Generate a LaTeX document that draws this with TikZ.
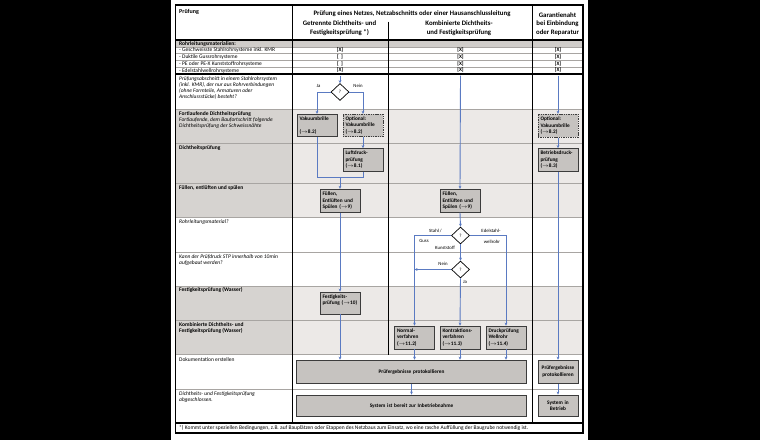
\documentclass[tikz,border=0pt]{standalone}
\usepackage{fontspec}
\setmainfont{Carlito}
\usetikzlibrary{arrows.meta,shapes.geometric}
\definecolor{labgray}{HTML}{D6D3D0}
\definecolor{congray}{HTML}{ECE9E7}
\definecolor{matgray}{HTML}{D0CDCA}
\definecolor{boxfill}{HTML}{C6C3C0}
\definecolor{boxdraw}{HTML}{3C3C3C}
\definecolor{sepgray}{HTML}{A8A5A2}
\definecolor{flowblue}{HTML}{5A7AC2}
\newcommand\lbfont{\fontsize{5.5}{6.2}\selectfont}
\newcommand\hdfont{\fontsize{6.8}{8.5}\selectfont\bfseries}
\newcommand\bxfont{\fontsize{5.3}{6.5}\selectfont\bfseries\hyphenpenalty=10000\exhyphenpenalty=10000}
\newcommand\smfont{\fontsize{4.8}{5.6}\selectfont}
\newcommand\rarr{$\rightarrow$}
\begin{document}
\begin{tikzpicture}[x=1pt,y=-1pt,
  flow/.style={draw=flowblue,line width=0.9pt,-{Stealth[length=3pt,width=2.8pt]}},
  flowline/.style={draw=flowblue,line width=0.9pt},
  box/.style={draw=boxdraw,fill=boxfill,line width=0.8pt,inner sep=2.5pt,text width=35pt,align=left,minimum height=23pt,font=\bxfont},
  cbox/.style={box,align=center},
  optbox/.style={box,dash pattern=on 1.4pt off 0.9pt},
  dec/.style={diamond,draw=black,fill=white,line width=0.7pt,inner sep=0pt,minimum width=18pt,minimum height=17pt,font=\smfont},
  lbl/.style={anchor=base west,inner sep=0pt,align=left,font=\lbfont},
  hdr/.style={anchor=base,inner sep=0pt,align=center,font=\hdfont},
  xmark/.style={anchor=base,inner sep=0pt,font=\bxfont},
  brlbl/.style={anchor=base,inner sep=0pt,font=\smfont},
  rule/.style={draw=black,line width=1.2pt},
  rowsep/.style={draw=sepgray,line width=0.5pt}
]
\useasboundingbox (0,0) rectangle (760,440);
\fill[black] (0,0) rectangle (760,440);
\fill[white] (171,0) rectangle (588,440);
% row fills
\fill[matgray] (175.5,40) rectangle (583,47);
\fill[labgray] (175.5,109.3) rectangle (292.3,217.5);
\fill[labgray] (175.5,286) rectangle (292.3,354.5);
\fill[congray] (292.3,109.3) rectangle (583,217.5);
\fill[congray] (292.3,286) rectangle (583,354.5);
% separators
\foreach \yy in {47,53.7,60.5,67.5,109.3,143.5,183.3,217.5,252.5,286,320.5,354.5,389}
  \draw[rowsep] (175.5,\yy) -- (583,\yy);
% rules
\draw[rule] (175.5,40) -- (583,40);
\draw[rule] (175.5,74) -- (583,74);
\draw[rule] (175.5,423) -- (583,423);
\draw[rule] (292.3,5) -- (292.3,423);
\draw[rule] (532.3,5) -- (532.3,423);
\draw[rule] (388.5,21.5) -- (388.5,354.5);
\draw[rule] (175.5,5) rectangle (583,433);

% header
\node[lbl,font=\fontsize{6}{7}\selectfont\bfseries] (hp) at (179,13.5) {Prüfung};
\node[hdr] (hnet) at (412,15.2) {Prüfung eines Netzes, Netzabschnitts oder einer Hausanschlussleitung};
\node[hdr] (hget) at (339.5,34) {Getrennte Dichtheits- und\\Festigkeitsprüfung *)};
\node[hdr] (hkom) at (459,34) {Kombinierte Dichtheits-\\und Festigkeitsprüfung};
\node[hdr] (hgar) at (557.5,34) {Garantienaht\\bei Einbindung\\oder Reparatur};

% row labels
\node[lbl,font=\lbfont\bfseries] (lmat) at (179,45) {Rohrleitungsmaterialien:};
\node[lbl] (lm1) at (179,51.6) {- Geschweisste Stahlrohrsysteme inkl. KMR};
\node[lbl] (lm2) at (179,58.3) {- Duktile Gussrohrsysteme};
\node[lbl] (lm3) at (179,65.1) {- PE oder PE-X Kunststoffrohrsysteme};
\node[lbl] (lm4) at (179,72) {- Edelstahlwellrohrsysteme};
\node[lbl,font=\lbfont\itshape] (lq1) at (179,98.6) {Prüfungsabschnitt in einem Stahlrohrsystem\\(inkl. KMR), der nur aus Rohrverbindungen\\(ohne Formteile, Armaturen oder\\Anschlussstücke) besteht?};
\node[lbl] (lfort) at (179,127.5) {\textbf{Fortlaufende Dichtheitsprüfung}\\\textit{Fortlaufende, dem Baufortschritt folgende}\\\textit{Dichtheitsprüfung der Schweissnähte}};
\node[lbl,font=\lbfont\bfseries] (ldicht) at (179,149.6) {Dichtheitsprüfung};
\node[lbl,font=\lbfont\bfseries] (lfuell) at (179,189.3) {Füllen, entlüften und spülen};
\node[lbl,font=\lbfont\itshape] (lrohr) at (179,223.5) {Rohrleitungsmaterial?};
\node[lbl,font=\lbfont\itshape] (lkann) at (179,264.4) {Kann der Prüfdruck STP innerhalb von 10min\\aufgebaut werden?};
\node[lbl,font=\lbfont\bfseries] (lfest) at (179,291.5) {Festigkeitsprüfung (Wasser)};
\node[lbl,font=\lbfont\bfseries] (lkomb) at (179,332.8) {Kombinierte Dichtheits- und\\Festigkeitsprüfung (Wasser)};
\node[lbl] (ldoku) at (179,361.3) {Dokumentation erstellen};
\node[lbl,font=\lbfont\itshape] (labg) at (179,401.8) {Dichtheits- und Festigkeitsprüfung\\abgeschlossen.};
\node[lbl] (lfn) at (179,429.7) {*) Kommt unter speziellen Bedingungen, z.B. auf Bauplätzen oder Etappen des Netzbaus zum Einsatz, wo eine rasche Auffüllung der Baugrube notwendig ist.};

% material marks
\node[xmark] (a1) at (340,51.5) {[X]};
\node[xmark] (a2) at (340,58.2) {[~~]};
\node[xmark] (a3) at (340,65) {[~~]};
\node[xmark] (a4) at (340,71.9) {[X]};
\node[xmark] (b1) at (460.5,51.5) {[X]};
\node[xmark] (b2) at (460.5,58.2) {[X]};
\node[xmark] (b3) at (460.5,65) {[X]};
\node[xmark] (b4) at (460.5,71.9) {[X]};
\node[xmark] (c1) at (558,51.5) {[X]};
\node[xmark] (c2) at (558,58.2) {[X]};
\node[xmark] (c3) at (558,65) {[X]};
\node[xmark] (c4) at (558,71.9) {[X]};
\coordinate (s2) at (340,75.5);
\coordinate (s3) at (460.5,75.5);
\coordinate (s4) at (558,75.5);

% column 2
\node[dec] (d1) at (340,92) {?};
\node[box,minimum height=22.5pt] (vak) at (317,125.5) {Vakuumbrille\\\mbox{}\\(\rarr8.2)};
\node[optbox,minimum height=22.5pt] (opt2) at (363,125.5) {Optional:\\Vakuumbrille\\(\rarr8.2)};
\node[box] (luft) at (363,160) {Luftdruck-\\prüfung\\(\rarr8.1)};
\node[box] (fu2) at (340,200.7) {Füllen,\\Entlüften und\\Spülen (\rarr9)};
\node[box,minimum height=22pt] (fest) at (340,303) {Festigkeits-\\prüfung (\rarr10)\\\mbox{}};
\coordinate (j2) at (340,177);

% column 3
\node[box] (fu3) at (460,200.7) {Füllen,\\Entlüften und\\Spülen (\rarr9)};
\node[dec] (d2) at (460.5,235.5) {?};
\node[dec] (d3) at (460.5,269.5) {?};
\node[box] (norm) at (414.5,337.5) {Normal-\\verfahren\\(\rarr11.2)};
\node[box] (kontr) at (460,337.5) {Kontraktions-\\verfahren\\(\rarr11.3)};
\node[box] (druck) at (506,337.5) {Druckprüfung\\Wellrohr\\(\rarr11.4)};

% shared
\node[cbox,text width=225pt,minimum height=23.3pt] (prot) at (411.5,371.7) {Prüfergebnisse protokollieren};
\node[cbox,text width=225pt,minimum height=21.7pt] (sys) at (411.5,405.8) {System ist bereit zur Inbetriebnahme};

% column 4
\node[optbox] (opt4) at (558,125.7) {Optional:\\Vakuumbrille\\(\rarr8.2)};
\node[box] (betr) at (558,160) {Betriebsdruck-\\prüfung\\(\rarr8.3)};
\node[cbox,minimum height=23.3pt] (prot4) at (558,371.7) {Prüfergebnisse\\protokollieren};
\node[cbox,minimum height=21.7pt] (sys4) at (558,405.8) {System in\\Betrieb};

% branch labels
\node[brlbl] (tja1) at (318.5,87.5) {Ja};
\node[brlbl] (tnein1) at (358,87.5) {Nein};
\node[brlbl] (tstahl) at (435.5,232.5) {Stahl /};
\node[brlbl] (tguss) at (424,242.5) {Guss};
\node[brlbl] (tkunst) at (445,249) {Kunststoff};
\node[brlbl] (tedel) at (491,232.5) {Edelstahl-};
\node[brlbl] (twell) at (492,243) {wellrohr};
\node[brlbl] (tnein2) at (443,265.5) {Nein};
\node[brlbl] (tja2) at (465,283) {Ja};

% connectors column 2
\draw[flow] (s2) -- (d1.north);
\draw[flow] (d1.west) -| (vak.north);
\draw[flow] (d1.east) -| (opt2.north);
\draw[flow] (opt2.south) -- (luft.north);
\draw[flowline] (vak.south) |- (j2);
\draw[flowline] (luft.south) |- (j2);
\draw[flow] (j2) -- (fu2.north);
\draw[flow] (fu2.south) -- (fest.north);
\draw[flow] (fest.south) -- (fest.south |- prot.north);
% connectors column 3
\draw[flow] (s3) -- (fu3.north);
\draw[flow] (fu3.south) -- (d2.north);
\draw[flow] (d2.west) -| (norm.north);
\draw[flow] (d2.east) -| (druck.north);
\draw[flow] (d2.south) -- (d3.north);
\draw[flow] (d3.west) -- (d3.west -| norm.north);
\draw[flow] (d3.south) -- (kontr.north);
\draw[flow] (norm.south) -- (norm.south |- prot.north);
\draw[flow] (kontr.south) -- (kontr.south |- prot.north);
\draw[flow] (druck.south) -- (druck.south |- prot.north);
\draw[flow] (prot.south) -- (sys.north);
% connectors column 4
\draw[flow] (s4) -- (opt4.north);
\draw[flow] (opt4.south) -- (betr.north);
\draw[flow] (betr.south) -- (prot4.north);
\draw[flow] (prot4.south) -- (sys4.north);
\end{tikzpicture}
\end{document}
